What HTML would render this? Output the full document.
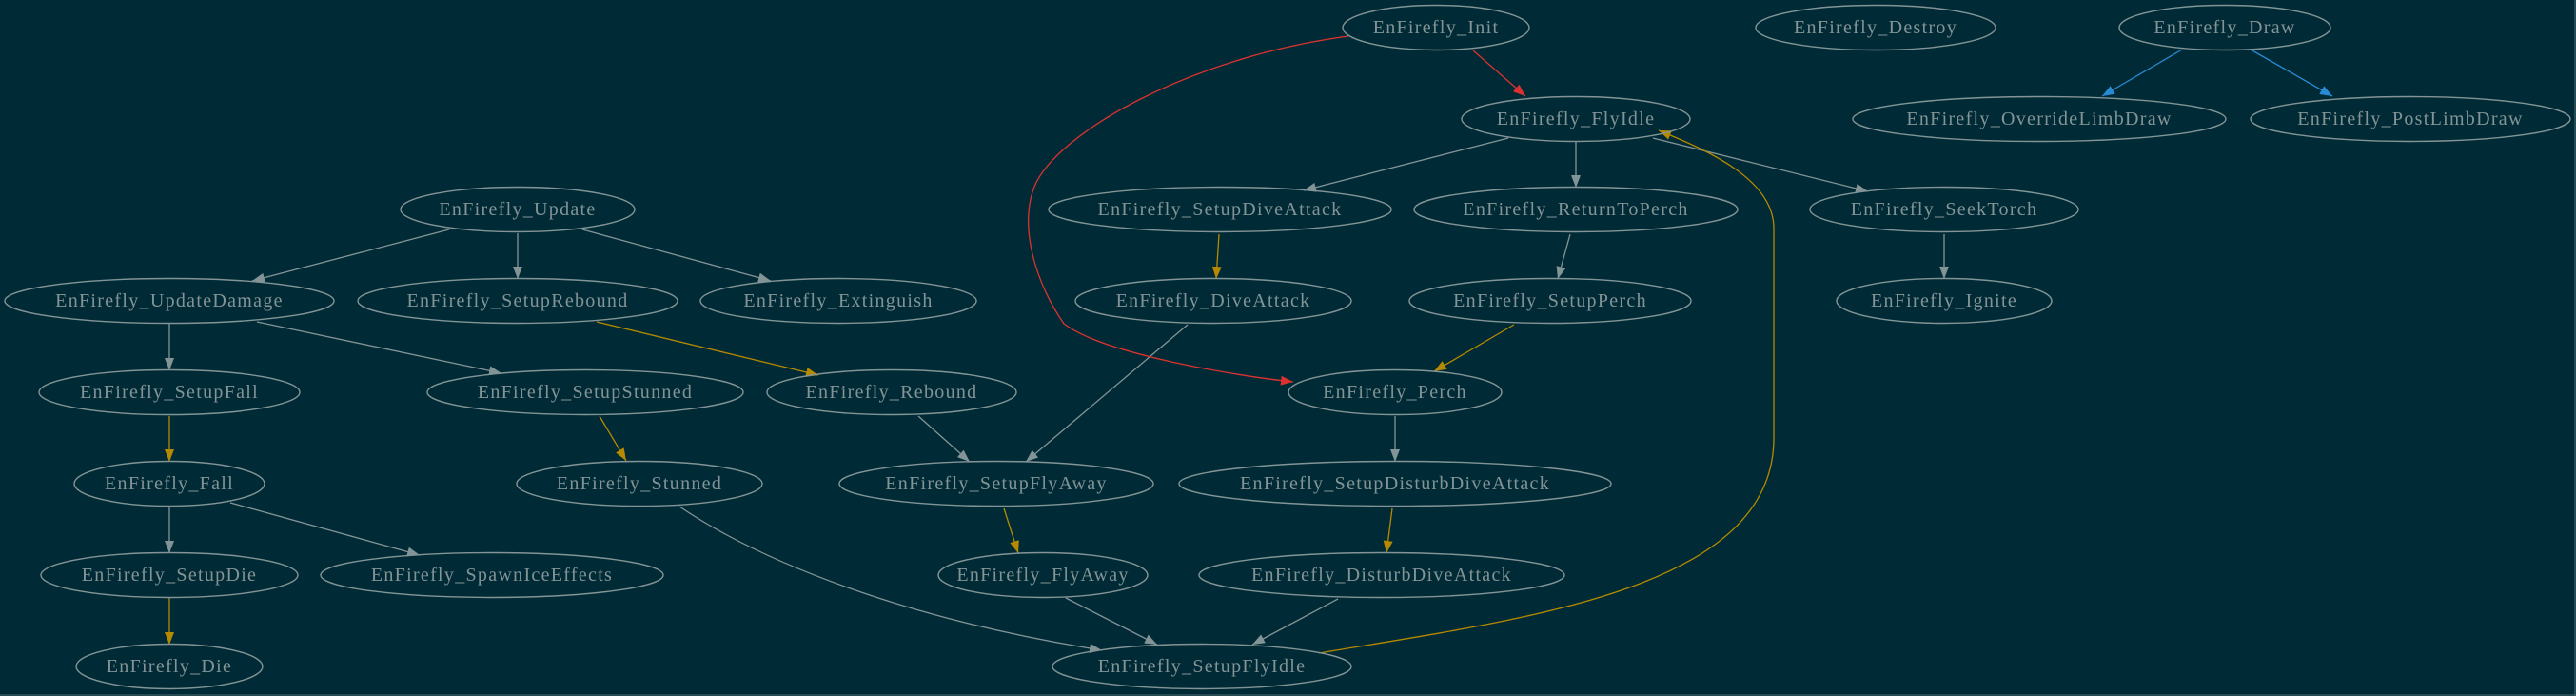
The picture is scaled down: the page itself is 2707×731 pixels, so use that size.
<!DOCTYPE html>
<html><head><meta charset="utf-8"><style>
html,body{margin:0;padding:0;background:#002b36;}
svg{display:block;}
text{font-family:"Liberation Serif",serif;font-size:20px;letter-spacing:1.3px;fill:#839496;text-anchor:middle;dominant-baseline:central;}
ellipse{fill:none;stroke:#839496;stroke-width:1.4;}
.g{stroke:#839496;stroke-width:1.3;fill:none;}
.y{stroke:#b58900;stroke-width:1.3;fill:none;}
.r{stroke:#dc322f;stroke-width:1.3;fill:none;}
.b{stroke:#268bd2;stroke-width:1.3;fill:none;}
</style></head><body>
<svg width="2707" height="731" viewBox="0 0 2707 731" xmlns="http://www.w3.org/2000/svg">
<defs>
<marker id="mg" markerUnits="userSpaceOnUse" markerWidth="14" markerHeight="10" refX="13" refY="5" orient="auto"><path d="M0,0 L13,5 L0,10 z" fill="#839496"/></marker>
<marker id="my" markerUnits="userSpaceOnUse" markerWidth="14" markerHeight="10" refX="13" refY="5" orient="auto"><path d="M0,0 L13,5 L0,10 z" fill="#b58900"/></marker>
<marker id="mr" markerUnits="userSpaceOnUse" markerWidth="14" markerHeight="10" refX="13" refY="5" orient="auto"><path d="M0,0 L13,5 L0,10 z" fill="#dc322f"/></marker>
<marker id="mb" markerUnits="userSpaceOnUse" markerWidth="14" markerHeight="10" refX="13" refY="5" orient="auto"><path d="M0,0 L13,5 L0,10 z" fill="#268bd2"/></marker>
</defs>
<rect x="0" y="0" width="2707" height="731" fill="#002b36"/>
<line x1="0" y1="730" x2="2707" y2="730" stroke="#4f6d73" stroke-width="1"/>
<line x1="2706" y1="0" x2="2706" y2="731" stroke="#4f6d73" stroke-width="1"/>

<path class="g" marker-end="url(#mg)" d="M472,241 L265,295"/>
<path class="g" marker-end="url(#mg)" d="M544,245 L544,293"/>
<path class="g" marker-end="url(#mg)" d="M612,241 L810,295"/>
<path class="g" marker-end="url(#mg)" d="M178,340 L178,389"/>
<path class="g" marker-end="url(#mg)" d="M270,338 L527,392"/>
<path class="g" marker-end="url(#mg)" d="M965,437 L1019,485"/>
<path class="g" marker-end="url(#mg)" d="M1248,341 L1078,485"/>
<path class="g" marker-end="url(#mg)" d="M178,532 L178,581"/>
<path class="g" marker-end="url(#mg)" d="M242,528 L441,583"/>
<path class="g" marker-end="url(#mg)" d="M1585,145 L1370,200"/>
<path class="g" marker-end="url(#mg)" d="M1656,149 L1656,197"/>
<path class="g" marker-end="url(#mg)" d="M1737,145 L1963,201"/>
<path class="g" marker-end="url(#mg)" d="M1650,246 L1637,293"/>
<path class="g" marker-end="url(#mg)" d="M2043,246 L2043,293"/>
<path class="g" marker-end="url(#mg)" d="M1466,437 L1466,485"/>
<path class="g" marker-end="url(#mg)" d="M1120,628 L1216,677"/>
<path class="g" marker-end="url(#mg)" d="M1406,629 L1316,677"/>
<path class="g" marker-end="url(#mg)" d="M714,532 C800,590 950,650 1158,683"/>

<path class="y" marker-end="url(#my)" d="M627,338 L860,394"/>
<path class="y" marker-end="url(#my)" d="M178,437 L178,485"/>
<path class="y" marker-end="url(#my)" d="M630,437 L658,484"/>
<path class="y" marker-end="url(#my)" d="M178,628 L178,677"/>
<path class="y" marker-end="url(#my)" d="M1281,246 L1278,293"/>
<path class="y" marker-end="url(#my)" d="M1591,341 L1507,390"/>
<path class="y" marker-end="url(#my)" d="M1055,534 L1070,581"/>
<path class="y" marker-end="url(#my)" d="M1463,534 L1457,581"/>
<path class="y" marker-end="url(#my)" d="M1386,686 C1600,650 1864,620 1864,460 L1864,240 C1864,190 1800,160 1743,137"/>

<path class="r" marker-end="url(#mr)" d="M1548,53 L1603,101"/>
<path class="r" marker-end="url(#mr)" d="M1417,38 C1250,60 1110,140 1087,196 C1070,240 1090,300 1118,340 C1160,372 1300,395 1359,401"/>

<path class="b" marker-end="url(#mb)" d="M2293,52 L2209,101"/>
<path class="b" marker-end="url(#mb)" d="M2365,52 L2451,101"/>

<ellipse cx="1509" cy="29" rx="98" ry="23.5"/><text x="1509" y="29">EnFirefly_Init</text>
<ellipse cx="1971" cy="29" rx="126" ry="23.5"/><text x="1971" y="29">EnFirefly_Destroy</text>
<ellipse cx="2338" cy="29" rx="111" ry="23.5"/><text x="2338" y="29">EnFirefly_Draw</text>
<ellipse cx="1656" cy="125" rx="120" ry="23.5"/><text x="1656" y="125">EnFirefly_FlyIdle</text>
<ellipse cx="2143" cy="125" rx="196" ry="23.5"/><text x="2143" y="125">EnFirefly_OverrideLimbDraw</text>
<ellipse cx="2533" cy="125" rx="168" ry="23.5"/><text x="2533" y="125">EnFirefly_PostLimbDraw</text>
<ellipse cx="544" cy="220" rx="123" ry="23.5"/><text x="544" y="220">EnFirefly_Update</text>
<ellipse cx="1282" cy="220" rx="180" ry="23.5"/><text x="1282" y="220">EnFirefly_SetupDiveAttack</text>
<ellipse cx="1656" cy="220" rx="170" ry="23.5"/><text x="1656" y="220">EnFirefly_ReturnToPerch</text>
<ellipse cx="2043" cy="220" rx="141" ry="23.5"/><text x="2043" y="220">EnFirefly_SeekTorch</text>
<ellipse cx="178" cy="316" rx="173" ry="23.5"/><text x="178" y="316">EnFirefly_UpdateDamage</text>
<ellipse cx="544" cy="316" rx="168" ry="23.5"/><text x="544" y="316">EnFirefly_SetupRebound</text>
<ellipse cx="881" cy="316" rx="145" ry="23.5"/><text x="881" y="316">EnFirefly_Extinguish</text>
<ellipse cx="1275" cy="316" rx="145" ry="23.5"/><text x="1275" y="316">EnFirefly_DiveAttack</text>
<ellipse cx="1629" cy="316" rx="148" ry="23.5"/><text x="1629" y="316">EnFirefly_SetupPerch</text>
<ellipse cx="2043" cy="316" rx="113" ry="23.5"/><text x="2043" y="316">EnFirefly_Ignite</text>
<ellipse cx="178" cy="412" rx="137" ry="23.5"/><text x="178" y="412">EnFirefly_SetupFall</text>
<ellipse cx="615" cy="412" rx="166" ry="23.5"/><text x="615" y="412">EnFirefly_SetupStunned</text>
<ellipse cx="937" cy="412" rx="131" ry="23.5"/><text x="937" y="412">EnFirefly_Rebound</text>
<ellipse cx="1466" cy="412" rx="112" ry="23.5"/><text x="1466" y="412">EnFirefly_Perch</text>
<ellipse cx="178" cy="508" rx="100" ry="23.5"/><text x="178" y="508">EnFirefly_Fall</text>
<ellipse cx="672" cy="508" rx="129" ry="23.5"/><text x="672" y="508">EnFirefly_Stunned</text>
<ellipse cx="1047" cy="508" rx="165" ry="23.5"/><text x="1047" y="508">EnFirefly_SetupFlyAway</text>
<ellipse cx="1466" cy="508" rx="227" ry="23.5"/><text x="1466" y="508">EnFirefly_SetupDisturbDiveAttack</text>
<ellipse cx="178" cy="604" rx="135" ry="23.5"/><text x="178" y="604">EnFirefly_SetupDie</text>
<ellipse cx="517" cy="604" rx="180" ry="23.5"/><text x="517" y="604">EnFirefly_SpawnIceEffects</text>
<ellipse cx="1096" cy="604" rx="110" ry="23.5"/><text x="1096" y="604">EnFirefly_FlyAway</text>
<ellipse cx="1452" cy="604" rx="192" ry="23.5"/><text x="1452" y="604">EnFirefly_DisturbDiveAttack</text>
<ellipse cx="178" cy="700" rx="98" ry="23.5"/><text x="178" y="700">EnFirefly_Die</text>
<ellipse cx="1263" cy="700" rx="157" ry="23.5"/><text x="1263" y="700">EnFirefly_SetupFlyIdle</text>
</svg>
</body></html>
